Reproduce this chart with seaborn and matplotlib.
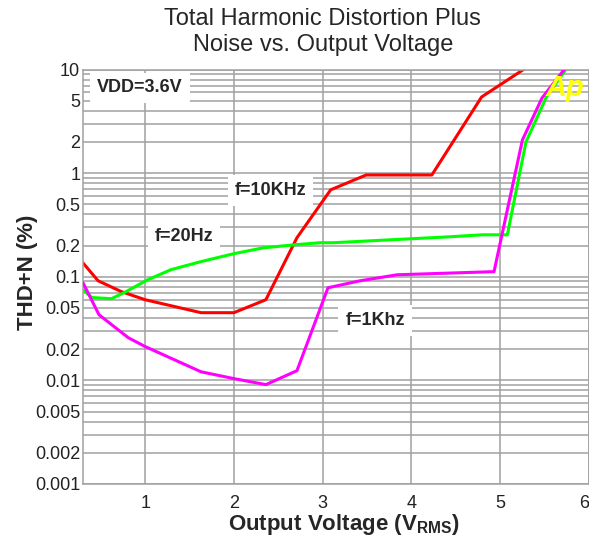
import numpy as np
import pandas as pd
import matplotlib
matplotlib.use('Agg')
import matplotlib.pyplot as plt
import seaborn as sns
from matplotlib.ticker import FixedLocator, NullFormatter, MultipleLocator

# f=10KHz curve (red)
volt_10k = [0.3, 0.47, 0.73, 1.0, 1.63, 2.0, 2.36, 2.71, 3.09, 3.49, 4.23, 4.79, 5.3]
thd_10k = [0.136, 0.0914, 0.072, 0.060, 0.045, 0.045, 0.060, 0.238, 0.69, 0.96, 0.96, 5.43, 10.5]

# f=20Hz curve (green)
volt_20 = [0.3, 0.4, 0.62, 0.76, 1.03, 1.29, 1.63, 2.0, 2.33, 2.67, 2.97, 3.12, 4.43, 4.8, 5.08, 5.29, 5.52, 5.75]
thd_20 = [0.075, 0.063, 0.0614, 0.070, 0.0935, 0.117, 0.14, 0.167, 0.19, 0.203, 0.213, 0.213, 0.243, 0.254, 0.254, 2.0, 5.43, 10.3]

# f=1Khz curve (magenta)
volt_1k = [0.3, 0.48, 0.81, 1.0, 1.63, 2.0, 2.36, 2.71, 3.06, 3.42, 3.84, 4.93, 5.25, 5.47, 5.74]
thd_1k = [0.0875, 0.043, 0.0258, 0.0212, 0.0121, 0.0104, 0.0091, 0.0124, 0.0783, 0.0914, 0.1045, 0.112, 2.09, 5.3, 10.5]

y_ticks = [10, 5, 2, 1, 0.5, 0.2, 0.1, 0.05, 0.02, 0.01, 0.005, 0.002, 0.001]
y_tick_labels = ['10', '5', '2', '1', '0.5', '0.2', '0.1', '0.05', '0.02', '0.01', '0.005', '0.002', '0.001']
x_ticks = [1, 2, 3, 4, 5, 6]

sns.set_style('white')
plt.rcParams['font.family'] = ['Liberation Sans', 'DejaVu Sans']
plt.rcParams['mathtext.default'] = 'regular'

fig = plt.figure(figsize=(5.89, 5.45), dpi=100)
ax = fig.add_axes([83 / 589, 1 - 484 / 545, 506 / 589, 414.5 / 545])

grid_col = '#a0a0a0'

sns.lineplot(x=volt_10k, y=thd_10k, color='#ff0000', lw=2.2, ax=ax, zorder=2.5)
sns.lineplot(x=volt_20, y=thd_20, color='#00ff00', lw=2.2, ax=ax, zorder=2.5)
sns.lineplot(x=volt_1k, y=thd_1k, color='#ff00ff', lw=2.2, ax=ax, zorder=2.6)

ax.set_yscale('log')
ax.set_xlim(0.3, 6.0)
ax.set_ylim(0.001, 10)

# y grid on every log minor position, labels only on 1-2-5
minors = [m * 10.0 ** e for e in range(-3, 1) for m in range(1, 10)] + [10]
ax.yaxis.set_major_locator(FixedLocator(y_ticks))
ax.set_yticklabels(y_tick_labels)
ax.yaxis.set_minor_locator(FixedLocator([v for v in minors if v not in y_ticks]))
ax.yaxis.set_minor_formatter(NullFormatter())
ax.xaxis.set_major_locator(FixedLocator(x_ticks))
ax.set_xticklabels([str(v) for v in x_ticks])
ax.xaxis.set_minor_locator(MultipleLocator(0.2))
# last label squeezed against the right edge, as in the original
ax.get_xticklabels()[-1].set_horizontalalignment('right')

ax.grid(which='major', axis='x', color=grid_col, lw=1.1)
ax.grid(which='both', axis='y', color=grid_col, lw=1.1)
ax.set_axisbelow(True)

ax.tick_params(axis='y', which='both', length=0, pad=2, labelsize=13, colors='#222222')
ax.tick_params(axis='x', which='major', length=0, pad=8, labelsize=13, colors='#222222')
ax.tick_params(axis='x', which='minor', direction='in', length=6, width=1.1, color=grid_col)

for s in ax.spines.values():
    s.set_color(grid_col)
    s.set_linewidth(1.1)

ax.set_xlabel('Output Voltage (V$_{RMS}$)', fontsize=16, fontweight='bold')
ax.set_ylabel('THD+N (%)', fontsize=16, fontweight='bold')
ax.xaxis.set_label_coords(0.516, -0.068)
ax.yaxis.set_label_coords(-0.088, 0.51)

fig.text(0.548, 1 - 8 / 545, 'Total Harmonic Distortion Plus\nNoise vs. Output Voltage',
         ha='center', va='top', fontsize=17, linespacing=1.22)

box = dict(facecolor='white', edgecolor='none', pad=5)
ax.text(0.944, 6.64, 'VDD=3.6V', ha='center', va='center', fontsize=13, fontweight='bold', bbox=box)
ax.text(2.41, 0.675, 'f=10KHz', ha='center', va='center', fontsize=13, fontweight='bold', bbox=box)
ax.text(1.44, 0.243, 'f=20Hz', ha='center', va='center', fontsize=13, fontweight='bold', bbox=box)
ax.text(3.59, 0.0377, 'f=1Khz', ha='center', va='center', fontsize=13, fontweight='bold', bbox=box)
ax.text(5.73, 6.6, 'Ap', ha='center', va='center', fontsize=21, fontweight='bold',
        style='italic', color='#ffff00', zorder=5)

fig.savefig('out.png', dpi=100, facecolor='white')
